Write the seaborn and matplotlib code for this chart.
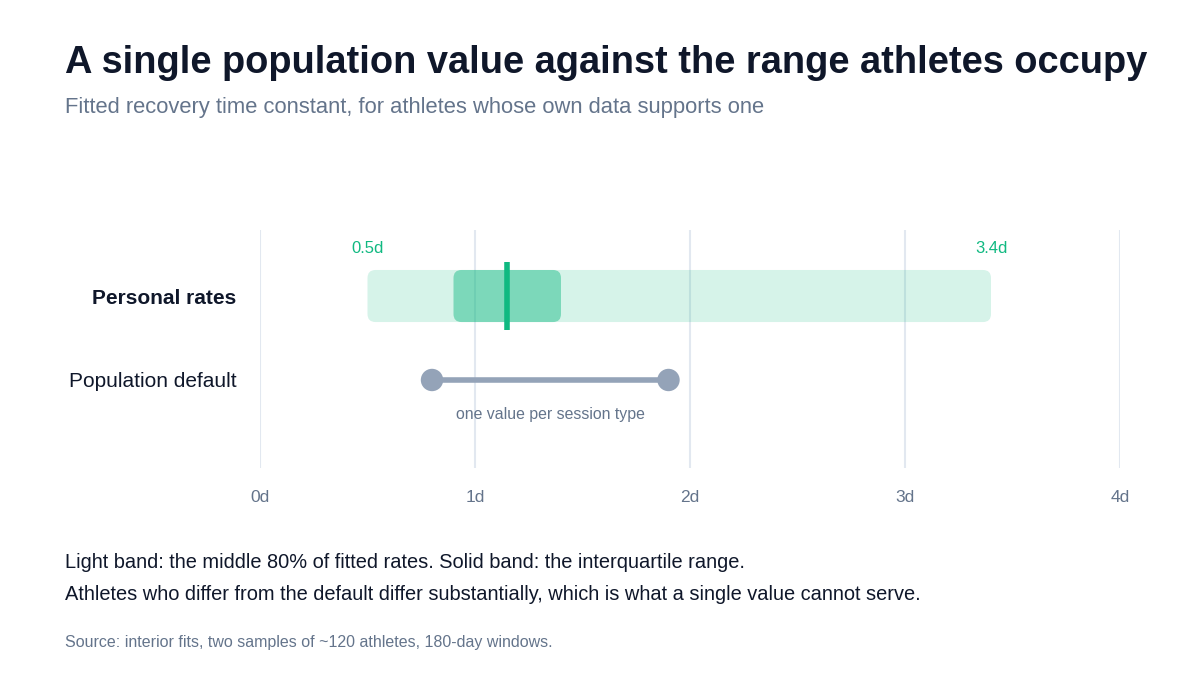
import matplotlib
matplotlib.use("Agg")
import matplotlib.pyplot as plt
import seaborn as sns
import pandas as pd
from matplotlib.patches import FancyBboxPatch

# valores (dias)
rows = ["Personal rates", "Population default"]
p10, p90 = 0.5, 3.4
q1, q3 = 0.9, 1.4
median = 1.15
pop_values = [0.8, 1.9]
ticks = [0, 1, 2, 3, 4]
tick_labels = ["0d", "1d", "2d", "3d", "4d"]

green = "#10b981"
slate = "#94a3b8"
dark = "#0f172a"
muted = "#64748b"

sns.set_theme(style="white")
plt.rcParams["font.family"] = ["Liberation Sans", "DejaVu Sans"]

fig = plt.figure(figsize=(12, 7), dpi=100)
ax = fig.add_axes([260 / 1200, 1 - 468 / 700, 860 / 1200, 238 / 700])
ax.set_xlim(0, 4)
ax.set_ylim(2.048, -0.786)

for t in ticks:
    ax.axvline(t, color="#e2e8f0", lw=1.5, zorder=0)

# aspecto para esquinas redondeadas
asp = 215 / 84
r = 8 / 215
h = 0.31
ax.add_patch(FancyBboxPatch((p10, -h), p90 - p10, 2 * h,
                            boxstyle=f"round,pad=0,rounding_size={r}",
                            mutation_aspect=asp, fc=green, alpha=0.17, ec="none", zorder=1))
ax.add_patch(FancyBboxPatch((q1, -h), q3 - q1, 2 * h,
                            boxstyle=f"round,pad=0,rounding_size={r}",
                            mutation_aspect=asp, fc=green, alpha=0.45, ec="none", zorder=2))
ax.plot([median, median], [-0.41, 0.41], color=green, lw=4, solid_capstyle="butt", zorder=3)

ax.text(p10, -0.56, f"{p10}d", color=green, fontsize=12, ha="center", va="center")
ax.text(p90, -0.56, f"{p90}d", color=green, fontsize=12, ha="center", va="center")

pop = pd.DataFrame({"x": pop_values, "y": [1, 1]})
sns.lineplot(data=pop, x="x", y="y", color=slate, lw=4, ax=ax, zorder=3)
sns.scatterplot(data=pop, x="x", y="y", color=slate, s=260, edgecolor="none", ax=ax, zorder=4)
ax.text(sum(pop_values) / 2, 1.41, "one value per session type", color=muted,
        fontsize=11.4, ha="center", va="center")

ax.set_xticks(ticks)
ax.set_xticklabels(tick_labels, color=muted, fontsize=12.5)
ax.set_yticks([0, 1])
ax.set_yticklabels(rows, color=dark, fontsize=15)
ax.get_yticklabels()[0].set_fontweight("bold")
ax.tick_params(axis="x", length=0, pad=16)
ax.tick_params(axis="y", length=0, pad=17)
ax.set_xlabel("")
ax.set_ylabel("")
sns.despine(ax=ax, left=True, bottom=True)

fig.text(65 / 1200, 1 - 63 / 700, "A single population value against the range athletes occupy",
         fontsize=27.4, fontweight="bold", color=dark, va="center")
fig.text(65 / 1200, 1 - 108 / 700, "Fitted recovery time constant, for athletes whose own data supports one",
         fontsize=15.8, color=muted, va="center")
fig.text(65 / 1200, 1 - 563 / 700,
         "Light band: the middle 80% of fitted rates. Solid band: the interquartile range.",
         fontsize=14.4, color=dark, va="center")
fig.text(65 / 1200, 1 - 595 / 700,
         "Athletes who differ from the default differ substantially, which is what a single value cannot serve.",
         fontsize=14.4, color=dark, va="center")
fig.text(65 / 1200, 1 - 642 / 700, "Source: interior fits, two samples of ~120 athletes, 180-day windows.",
         fontsize=11.5, color=muted, va="center")

fig.savefig("out.png", dpi=100, facecolor="white")
